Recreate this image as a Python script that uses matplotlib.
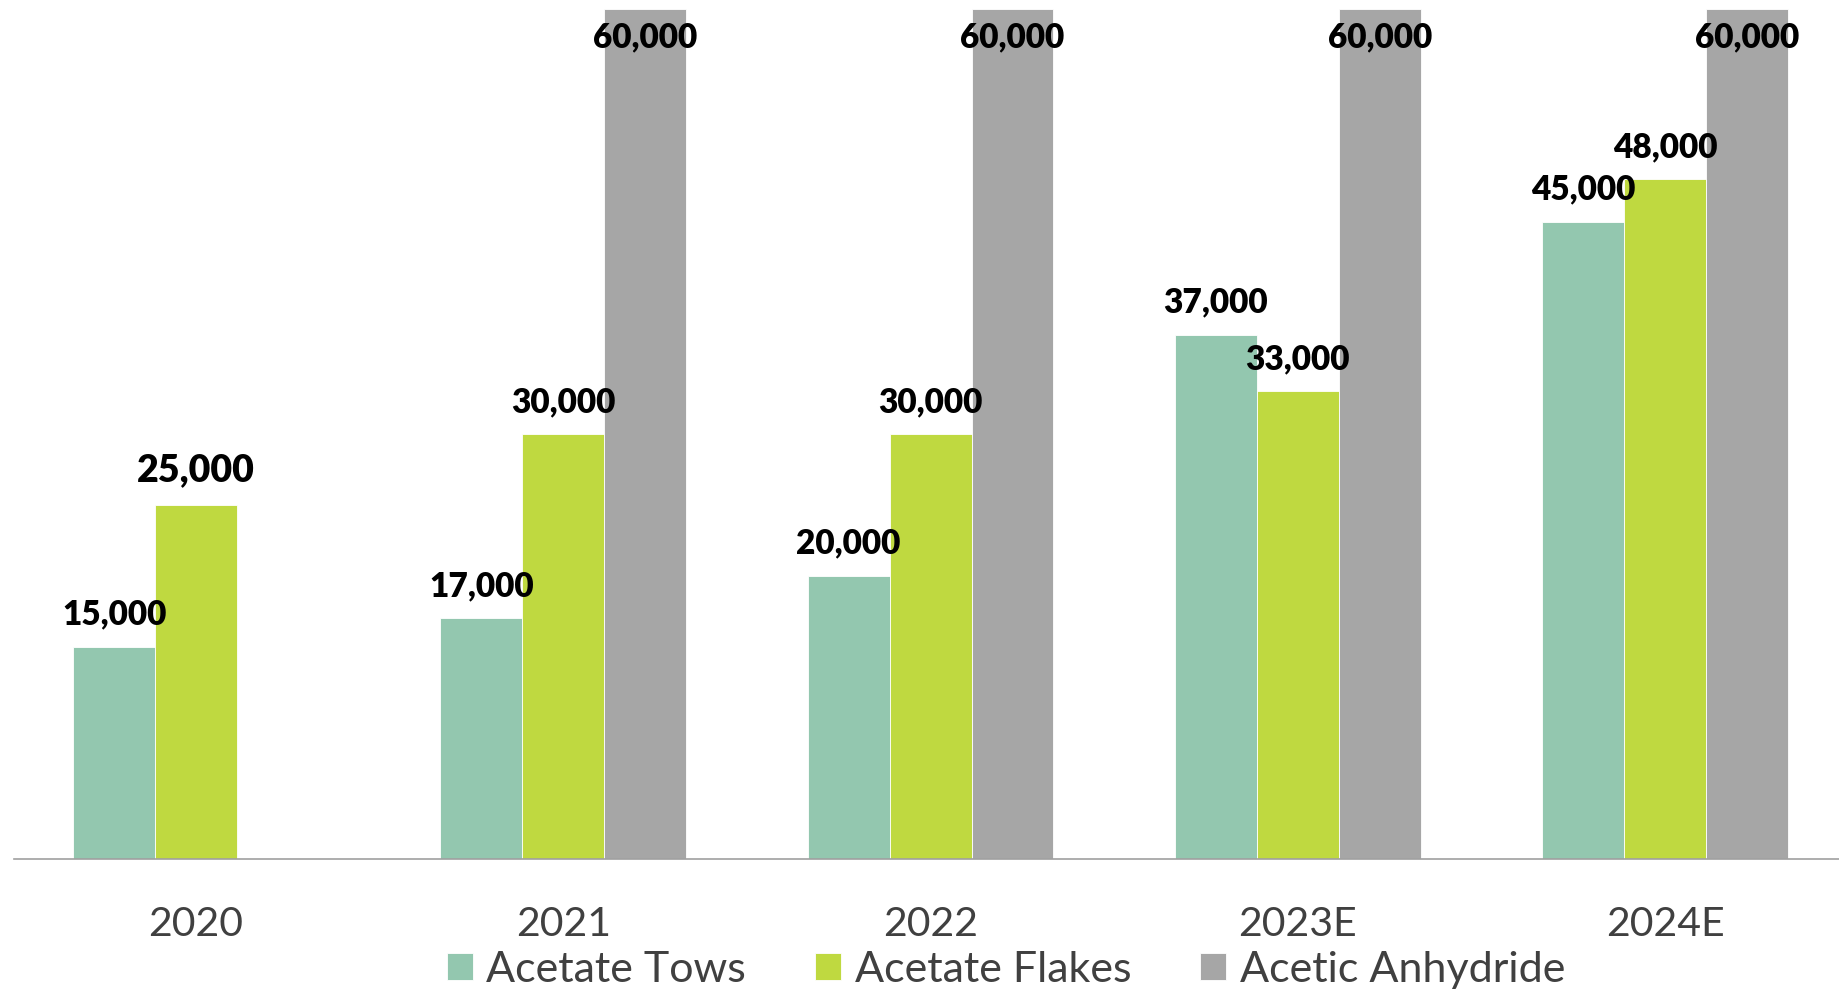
import numpy as np
import matplotlib.pyplot as plt

years = ['2020', '2021', '2022', '2023E', '2024E']
tows = [15000, 17000, 20000, 37000, 45000]
flakes = [25000, 30000, 30000, 33000, 48000]
anhydride = [np.nan, 60000, 60000, 60000, 60000]

series = [
    ('Acetate Tows', tows, '#93C7AF'),
    ('Acetate Flakes', flakes, '#BFD940'),
    ('Acetic Anhydride', anhydride, '#A6A6A6'),
]

plt.rcParams['font.family'] = ['Lato', 'DejaVu Sans']

fig = plt.figure(figsize=(18.4, 9.93), dpi=100)
ax = fig.add_axes([14 / 1840, 1 - 859 / 993, 1 - 14 / 1840, 859 / 993])

x = np.arange(len(years))
w = 0.223

for i, (name, vals, col) in enumerate(series):
    pos = x + (i - 1) * w
    ax.bar(pos, vals, w, color=col, label=name, edgecolor='white', linewidth=0.6)
    for px, v in zip(pos, vals):
        if np.isnan(v):
            continue
        txt = f'{int(v):,}'
        size = 27 if (name == 'Acetate Flakes' and px < 0.5) else 24
        if v >= 60000:
            off = -28
        elif size == 27:
            off = 35
        else:
            off = 32
        ax.annotate(txt, (px, v), xytext=(0, off), textcoords='offset pixels',
                    ha='center', va='center', fontsize=size, fontweight='heavy',
                    color='black', annotation_clip=False)

ax.set_xlim(-0.4955, 4.476)
ax.set_ylim(0, 60000 * 859 / 850)
ax.set_xticks(x)
ax.set_xticklabels(years, fontsize=29.5, color='#404040')
ax.tick_params(axis='x', length=0, pad=33.5)
ax.set_yticks([])
for s in ['top', 'right', 'left']:
    ax.spines[s].set_visible(False)
ax.spines['bottom'].set_color('#A0A0A0')
ax.spines['bottom'].set_linewidth(1.2)

leg = fig.legend(loc='center', bbox_to_anchor=(1006 / 1840, 1 - 970 / 993), ncol=3,
                 frameon=False, fontsize=31, handlelength=0.6, handleheight=0.6,
                 handletextpad=0.32, columnspacing=1.6, borderaxespad=0, borderpad=0)
for t in leg.get_texts():
    t.set_color('#404040')

fig.savefig('out.png', dpi=100)
